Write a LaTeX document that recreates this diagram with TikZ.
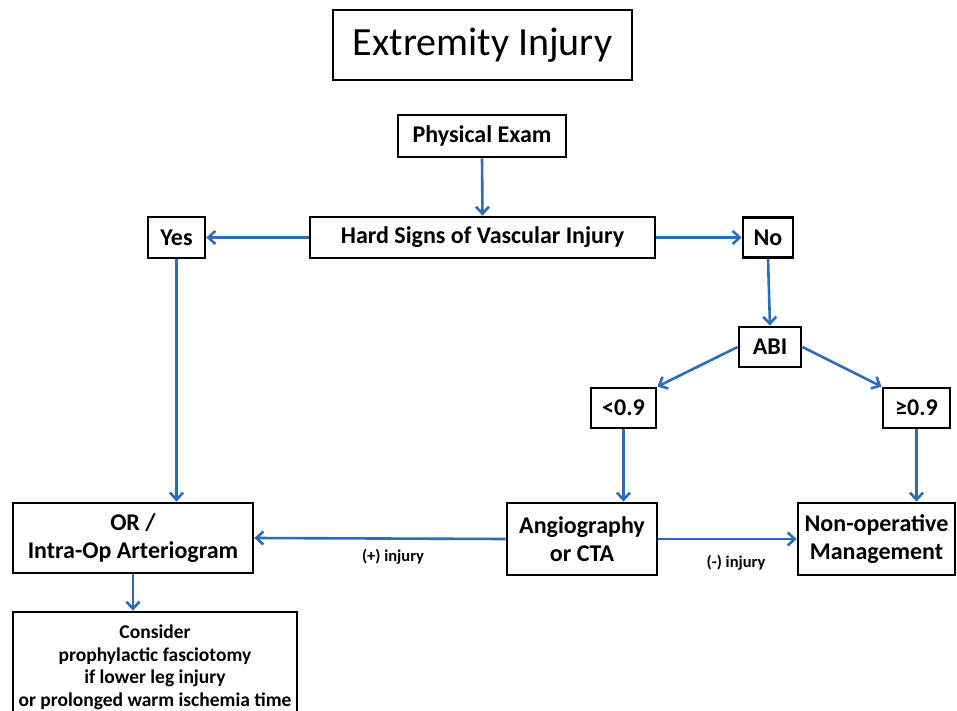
\documentclass[tikz,border=0pt]{standalone}
\usepackage{fontspec}
\setmainfont{Carlito}
\usetikzlibrary{arrows.meta}
\definecolor{arrowblue}{RGB}{46,108,182}
\tikzset{
  box/.style={draw=black, line width=2.8pt, inner sep=0pt, align=center, font=\bfseries\fontsize{24}{28}\selectfont},
  flow/.style={draw=arrowblue, line width=2.6pt, -{Straight Barb[length=7pt,width=13pt]}},
  lbl/.style={inner sep=0pt, font=\bfseries\fontsize{16.5}{19}\selectfont}
}
\begin{document}
\begin{tikzpicture}[x=1pt,y=-1pt]
\clip (0,0) rectangle (957,711);
\fill[white] (0,0) rectangle (957,711);
\node[draw=black, line width=2.8pt, inner sep=0pt, minimum width=299pt, minimum height=70pt, font=\fontsize{40}{46}\selectfont] (title) at (482.5,45) {Extremity Injury};
\node[box, minimum width=168pt, minimum height=42pt] (pe) at (482,136) {Physical Exam};
\node[box, minimum width=345pt, minimum height=41pt] (hs) at (482.5,237.5) {Hard Signs of Vascular Injury};
\node[box, minimum width=57pt, minimum height=41pt] (yes) at (176.5,237.5) {Yes};
\node[box, minimum width=50pt, minimum height=40pt] (no) at (768,237.5) {No};
\node[box, minimum width=62pt, minimum height=40pt] (abi) at (770,347) {ABI};
\node[box, minimum width=65pt, minimum height=40pt] (lt) at (623.5,408) {<0.9};
\node[box, minimum width=67pt, minimum height=40pt] (ge) at (916.5,408) {≥0.9};
\node[box, minimum width=150pt, minimum height=72pt] (angio) at (582,539) {Angiography\\or CTA};
\node[box, minimum width=157pt, minimum height=72pt] (nonop) at (876.5,539) {Non-operative\\Management};
\node[box, minimum width=240pt, minimum height=70pt] (or) at (133,538) {OR /\\Intra-Op Arteriogram};
\node[box, minimum width=284pt, minimum height=106pt] (cons) at (155,665) {};
\node[inner sep=0pt, anchor=north, align=center, font=\bfseries\fontsize{19.5}{22.5}\selectfont] (constext) at (155,625) {Consider\\prophylactic fasciotomy\\if lower leg injury\\or prolonged warm ischemia time};
\node[lbl] (plus) at (393,557) {(+) injury};
\node[lbl] (minus) at (736,563) {(-) injury};
\draw[flow] (pe.south) -- (hs.north);
\draw[flow] (hs.west) -- (yes.east);
\draw[flow] (hs.east) -- (no.west);
\draw[flow] (no.south) -- (abi.north);
\draw[flow] (abi.west) -- (lt.north east);
\draw[flow] (abi.east) -- (ge.north west);
\draw[flow] (lt.south) -- (lt.south |- angio.north);
\draw[flow] (ge.south) -- (ge.south |- nonop.north);
\draw[flow] (angio.east) -- (nonop.west);
\draw[flow] (angio.west) -- (or.east);
\draw[flow] (yes.south) -- (yes.south |- or.north);
\draw[flow] (or.south) -- (or.south |- cons.north);
\end{tikzpicture}
\end{document}
